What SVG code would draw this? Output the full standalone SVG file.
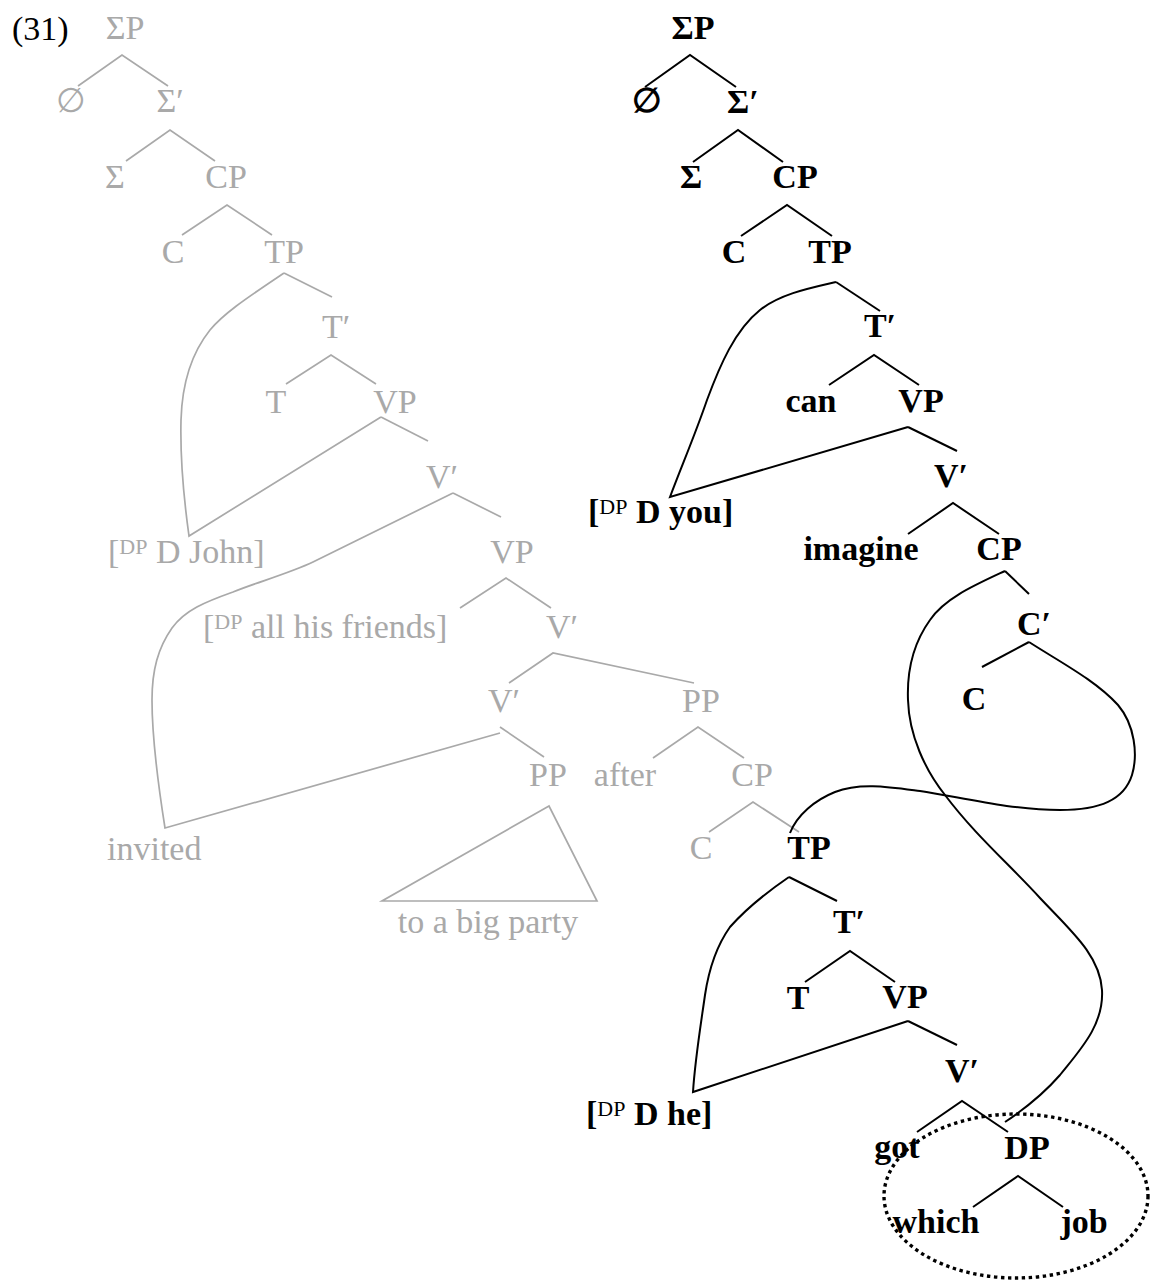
<svg xmlns="http://www.w3.org/2000/svg" width="1151" height="1281" viewBox="0 0 1151 1281">
<style>
text{font-family:"Liberation Serif","Times New Roman",serif;font-size:34px}
.g{fill:#a9a9a9}
.b{fill:#000;font-weight:bold}
.m{text-anchor:middle}
.gl{stroke:#a9a9a9;stroke-width:1.7;fill:none}
.bl{stroke:#000;stroke-width:2;fill:none}
.sup{font-size:22px}
</style>
<rect width="1151" height="1281" fill="#fff"/>
<g id="label"><text x="12" y="40" fill="#000">(31)</text></g>
<g id="connectors">
<g class="gl">
<path d="M78,86 L122,55 L168,86"/>
<path d="M126,161 L170,130 L215,161"/>
<path d="M182,235 L227,205 L272,235"/>
<path d="M284,273 L332,297"/>
<path d="M286,384 L331,355 L376,384"/>
<path d="M381,417 L428,441"/>
<path d="M453,493 L501,517"/>
<path d="M460,608 L506,578 L551,608"/>
<path d="M509,683 L553,653 L694,683"/>
<path d="M500,727 L544,757"/>
<path d="M653,758 L698,727 L744,758"/>
<path d="M709,832 L753,802 L799,832"/>
<path d="M549,806 L382,901 L597,901 Z"/>
<path d="M284,273 C250,296 225,312 210,330 C190,355 182,385 181,420 C180,460 184,500 189,536 L381,417"/>
<path d="M453,493 L313,562 C290,573 255,583 233,592 C205,602 185,610 172,628 C158,648 152,670 152,700 C152,740 159,790 165,828 L500,733"/>
</g>
<g class="bl">
<path d="M645,87 L690,55 L736,87"/>
<path d="M693,162 L738,130 L783,162"/>
<path d="M741,236 L787,205 L832,236"/>
<path d="M836,282 L880,311"/>
<path d="M829,385 L874,355 L919,385"/>
<path d="M908,427 L957,451"/>
<path d="M908,534 L953,503 L999,534"/>
<path d="M1005,571 L1029,594"/>
<path d="M982,667 L1029,642"/>
<path d="M789,877 L837,901"/>
<path d="M805,982 L850,951 L895,982"/>
<path d="M908,1021 L957,1045"/>
<path d="M917,1132 L962,1101 L1008,1132"/>
<path d="M973,1207 L1018,1176 L1063,1207"/>
<path d="M836,282 C810,288 780,294 760,310 C735,330 720,365 707,400 C695,435 682,465 670,497 L908,427"/>
<path d="M1005,571 C975,585 945,598 930,620 C912,645 907,675 908,700 C909,735 925,770 945,795 C975,835 1010,865 1040,898 C1070,930 1100,955 1102,990 C1104,1025 1080,1050 1060,1075 C1040,1098 1020,1112 1005,1122"/>
<path d="M1029,642 C1060,662 1095,680 1118,705 C1135,725 1138,755 1132,775 C1124,800 1100,810 1060,810 C1010,810 960,797 920,791 C890,787 860,782 835,792 C815,800 797,815 790,833"/>
<path d="M789,877 C770,890 745,910 730,927 C715,948 708,975 705,995 C700,1030 695,1060 693,1092 L908,1021"/>
</g>
<ellipse cx="1016" cy="1196" rx="132" ry="82" fill="none" stroke="#000" stroke-width="3.4" stroke-dasharray="3.4 3.6"/>
</g>
<g id="gray-tree" class="g">
<g id="g-SigmaP"><text class="g m" x="125" y="39">ΣP</text></g>
<g id="g-null"><text class="g m" x="71" y="112">∅</text></g>
<g id="g-SigmaBar"><text class="g m" x="170" y="112">Σ′</text></g>
<g id="g-Sigma"><text class="g m" x="115" y="188">Σ</text></g>
<g id="g-CP1"><text class="g m" x="226" y="188">CP</text></g>
<g id="g-C1"><text class="g m" x="173" y="263">C</text></g>
<g id="g-TP1"><text class="g m" x="284" y="263">TP</text></g>
<g id="g-TBar"><text class="g m" x="336" y="338">T′</text></g>
<g id="g-T"><text class="g m" x="276" y="413">T</text></g>
<g id="g-VP1"><text class="g m" x="395" y="413">VP</text></g>
<g id="g-VBar1"><text class="g m" x="442" y="488">V′</text></g>
<g id="g-John"><text class="g" x="108" y="563">[<tspan class="sup" dy="-9">DP</tspan><tspan dy="9"> D John]</tspan></text></g>
<g id="g-VP2"><text class="g m" x="512" y="563">VP</text></g>
<g id="g-friends"><text class="g" x="203" y="638">[<tspan class="sup" dy="-9">DP</tspan><tspan dy="9"> all his friends]</tspan></text></g>
<g id="g-VBar2"><text class="g m" x="562" y="638">V′</text></g>
<g id="g-VBar3"><text class="g m" x="504" y="712">V′</text></g>
<g id="g-PP1"><text class="g m" x="701" y="712">PP</text></g>
<g id="g-PP2"><text class="g m" x="548" y="786">PP</text></g>
<g id="g-after"><text class="g m" x="625" y="786">after</text></g>
<g id="g-CP2"><text class="g m" x="752" y="786">CP</text></g>
<g id="g-invited"><text class="g" x="107" y="860">invited</text></g>
<g id="g-C2"><text class="g m" x="701" y="859">C</text></g>
<g id="g-party"><text class="g m" x="488" y="933">to a big party</text></g>
</g>
<g id="black-tree">
<g id="b-SigmaP"><text class="b m" x="693" y="39">ΣP</text></g>
<g id="b-null"><text class="b m" x="647" y="112">∅</text></g>
<g id="b-SigmaBar"><text class="b m" x="743" y="113">Σ′</text></g>
<g id="b-Sigma"><text class="b m" x="691" y="188">Σ</text></g>
<g id="b-CP1"><text class="b m" x="795" y="188">CP</text></g>
<g id="b-C1"><text class="b m" x="734" y="263">C</text></g>
<g id="b-TP1"><text class="b m" x="830" y="263">TP</text></g>
<g id="b-TBar1"><text class="b m" x="880" y="337">T′</text></g>
<g id="b-can"><text class="b m" x="811" y="412">can</text></g>
<g id="b-VP1"><text class="b m" x="921" y="412">VP</text></g>
<g id="b-you"><text class="b" x="588" y="523">[<tspan class="sup" dy="-9" font-weight="normal">DP</tspan><tspan dy="9"> D you]</tspan></text></g>
<g id="b-VBar1"><text class="b m" x="951" y="487">V′</text></g>
<g id="b-imagine"><text class="b m" x="861" y="560">imagine</text></g>
<g id="b-CP2"><text class="b m" x="999" y="560">CP</text></g>
<g id="b-CBar"><text class="b m" x="1034" y="635">C′</text></g>
<g id="b-C2"><text class="b m" x="974" y="710">C</text></g>
<g id="b-TP2"><text class="b m" x="809" y="859">TP</text></g>
<g id="b-TBar2"><text class="b m" x="849" y="933">T′</text></g>
<g id="b-T"><text class="b m" x="798" y="1009">T</text></g>
<g id="b-VP2"><text class="b m" x="905" y="1008">VP</text></g>
<g id="b-VBar2"><text class="b m" x="962" y="1082">V′</text></g>
<g id="b-he"><text class="b" x="586" y="1125">[<tspan class="sup" dy="-9" font-weight="normal">DP</tspan><tspan dy="9"> D he]</tspan></text></g>
<g id="b-got"><text class="b m" x="897" y="1158">got</text></g>
<g id="b-DP"><text class="b m" x="1027" y="1159">DP</text></g>
<g id="b-which"><text class="b m" x="936" y="1233">which</text></g>
<g id="b-job"><text class="b m" x="1084" y="1233">job</text></g>
</g>
</svg>
